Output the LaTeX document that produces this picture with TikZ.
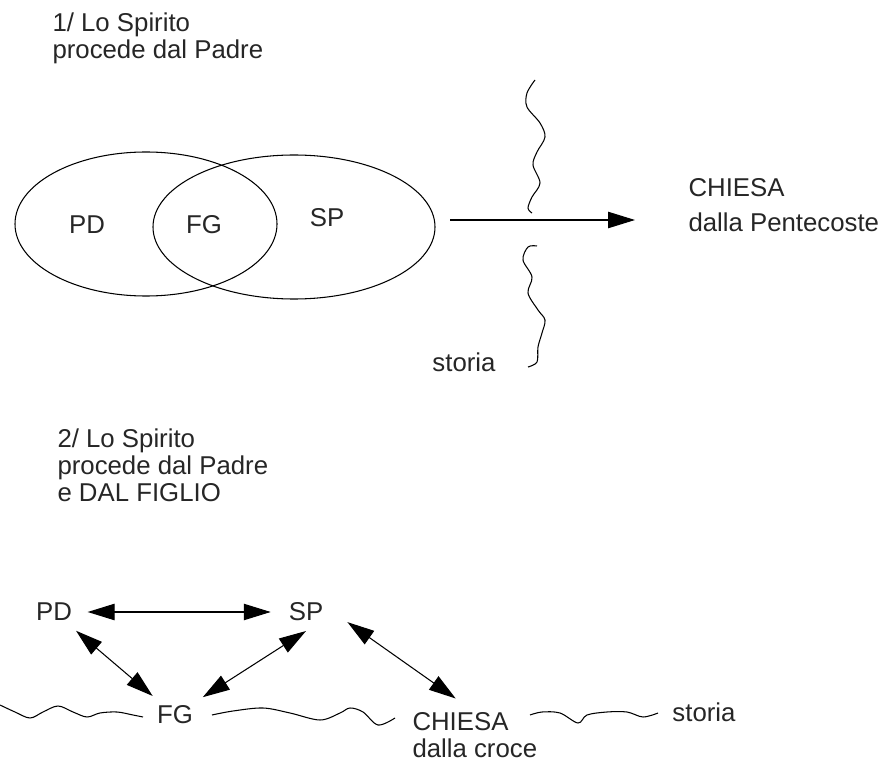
\documentclass[tikz,border=0pt]{standalone}
\usepackage{fontspec}
\setmainfont{Liberation Sans}
\usetikzlibrary{arrows.meta}

\begin{document}
\begin{tikzpicture}[x=0.03cm,y=-0.03cm,line width=0.9pt,
                >={Triangle[length=23pt,width=14pt]},
                main label/.style={font=\fontsize{22}{23}\selectfont,text=black!85,inner sep=8pt},
                text block/.style={font=\fontsize{22}{23}\selectfont,text=black!85,align=left,inner sep=0pt,anchor=north west},
                wave/.style={smooth,tension=0.55}]
\useasboundingbox (0,0) rectangle (883,765);
%Part 1
    \node[text block] (title1) at (52,12) {1/ Lo Spirito\\procede dal Padre};
    \draw (146,224) ellipse [x radius=3.93cm, y radius=2.16cm];
    \draw (294,227) ellipse [x radius=4.23cm, y radius=2.16cm];
    \node[main label] (PD1) at (87,225) {PD};
    \node[main label] (FG1) at (204,225) {FG};
    \node[main label] (SP1) at (327,218) {SP};
    \node[text block, font=\fontsize{22}{30}\selectfont] (chiesa1) at (688,178) {CHIESA\\dalla Pentecoste};
    \node[main label] (storia1) at (464,362) {storia};
    \coordinate (vennR) at (450,220);
    \coordinate (chiesaL) at (635,220);
    \draw[->] (vennR) -- (chiesaL);
    \draw plot[wave] coordinates {(535,80) (527,93) (527,107) (540,123) (545,137) (537,152) (533,165) (540,183) (532,197) (528,208) (532,213)};
    \draw plot[wave] coordinates {(537,246) (528,247) (523,260) (532,277) (528,293) (538,310) (545,320) (542,333) (538,347) (537,362) (528,367)};

%Part 2
    \node[text block] (title2) at (57,428) {2/ Lo Spirito\\procede dal Padre\\e DAL FIGLIO};
    \node[main label] (PD2) at (54,612) {PD};
    \node[main label] (SP2) at (306,612) {SP};
    \node[main label] (FG2) at (175,715) {FG};
    \node[text block] (chiesa2) at (412,712) {CHIESA\\dalla croce};
    \node[main label] (storia2) at (704,712) {storia};

    \path[<->] (PD2) edge[shorten <=5pt, shorten >=7pt] (SP2);
    \path[<->] (PD2) edge (FG2);
    \path[<->] (SP2.south) edge (FG2);
    \path[<->] (SP2.east) edge[shorten <=15pt, shorten >=20pt] (chiesa2.north);

    \draw plot[wave] coordinates {(0,705) (15,712) (30,718) (43,712) (58,706) (73,712) (87,717) (100,713) (117,712) (133,715) (143,717)};
    \draw plot[wave] coordinates {(212,715) (233,711) (263,708) (290,713) (320,720) (340,713) (350,708) (363,712) (378,725) (395,718)};
    \draw plot[wave] coordinates {(530,715) (542,712) (560,713) (578,723) (587,715) (607,712) (627,712) (643,717) (658,713)};
\end{tikzpicture}
\end{document}
